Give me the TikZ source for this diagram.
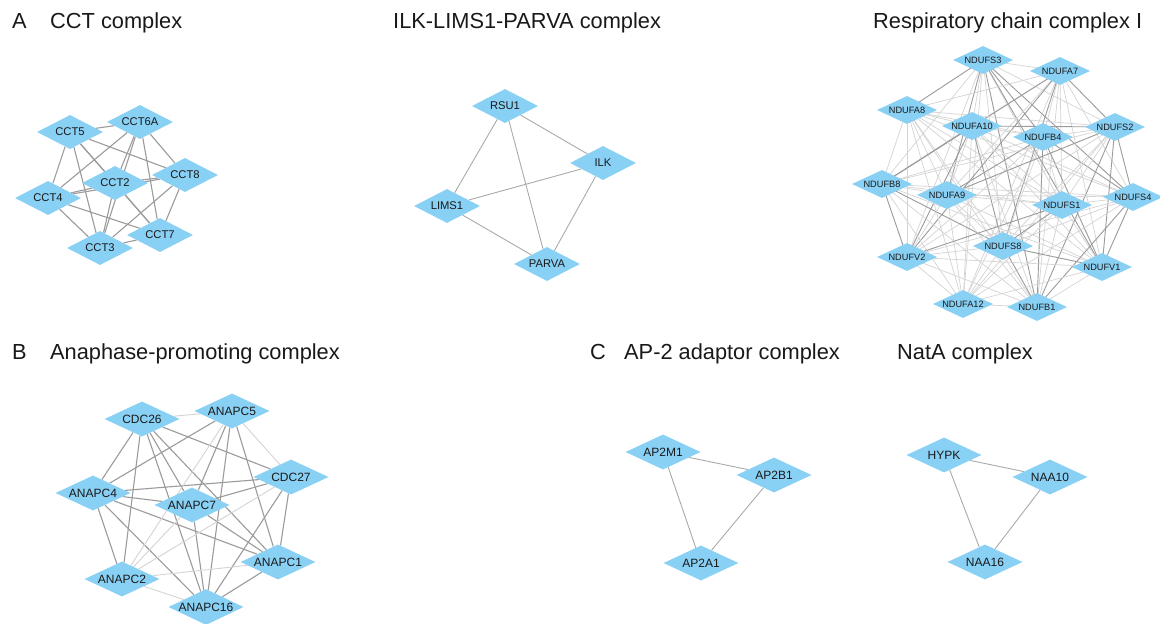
\documentclass[tikz,border=0pt]{standalone}
\usepackage{fontspec}
\setmainfont{Liberation Sans}
\usetikzlibrary{shapes.geometric}
\pgfdeclarelayer{paper}
\pgfdeclarelayer{edges}
\pgfsetlayers{paper,edges,main}
\definecolor{nodefill}{RGB}{137,208,245}
\definecolor{labeltext}{RGB}{25,25,25}
\definecolor{edgedark}{RGB}{155,155,155}
\definecolor{edgemid}{RGB}{170,170,170}
\definecolor{edgelight}{RGB}{212,212,212}
\tikzset{
  prot/.style={diamond, aspect=2, fill=nodefill, draw=none, inner sep=0pt, text=labeltext},
  protS/.style={prot, minimum width=60pt, minimum height=28pt, font=\fontsize{9.2}{9.2}\selectfont},
  protM/.style={prot, minimum width=66pt, minimum height=34pt, font=\fontsize{11.2}{11.2}\selectfont},
  protL/.style={prot, minimum width=75pt, minimum height=35pt, font=\fontsize{12}{12}\selectfont},
  link/.style={draw=edgedark, line width=1.1pt},
  midlink/.style={draw=edgemid, line width=0.9pt},
  faint/.style={draw=edgelight, line width=0.9pt},
  title/.style={anchor=base west, font=\fontsize{21.8}{21.8}\selectfont, text=labeltext, inner sep=0pt},
}
\begin{document}
\begin{tikzpicture}[x=1pt, y=-1pt]
\useasboundingbox (0,0) rectangle (1160,624);
\begin{pgfonlayer}{paper}
  \fill[white] (0,0) rectangle (1160,624);
\end{pgfonlayer}

% panel headings
\node[title] (lA) at (12,28) {A};
\node[title] (tCCT) at (50,28) {CCT complex};
\node[title] (tILK) at (393,28) {ILK-LIMS1-PARVA complex};
\node[title] (tRC) at (873,28) {Respiratory chain complex I};
\node[title] (lB) at (12,359) {B};
\node[title] (tAPC) at (50,359) {Anaphase-promoting complex};
\node[title] (lC) at (590,359) {C};
\node[title] (tAP) at (624,359) {AP-2 adaptor complex};
\node[title] (tNat) at (897,359) {NatA complex};

% CCT complex
\node[protM] (c6a) at (140,122) {CCT6A};
\node[protM] (c5)  at (70,132)  {CCT5};
\node[protM] (c8)  at (185,175) {CCT8};
\node[protM] (c2)  at (115,183) {CCT2};
\node[protM] (c4)  at (48,198)  {CCT4};
\node[protM] (c7)  at (160,235) {CCT7};
\node[protM] (c3)  at (100,248) {CCT3};

% ILK-LIMS1-PARVA complex
\node[protM] (rsu1)  at (505,106) {RSU1};
\node[protM] (ilk)   at (603,163) {ILK};
\node[protM] (lims1) at (447,206) {LIMS1};
\node[protM] (parva) at (547,264) {PARVA};

% Respiratory chain complex I
\node[protS] (s3)  at (983,60)   {NDUFS3};
\node[protS] (a7)  at (1060,71)  {NDUFA7};
\node[protS] (a8)  at (907,110)  {NDUFA8};
\node[protS] (a10) at (972,126)  {NDUFA10};
\node[protS] (b4)  at (1043,137) {NDUFB4};
\node[protS] (s2)  at (1115,127) {NDUFS2};
\node[protS] (b8)  at (882,184)  {NDUFB8};
\node[protS] (a9)  at (947,195)  {NDUFA9};
\node[protS] (s1)  at (1062,205) {NDUFS1};
\node[protS] (s4)  at (1133,197) {NDUFS4};
\node[protS] (s8)  at (1003,246) {NDUFS8};
\node[protS] (v2)  at (907,257)  {NDUFV2};
\node[protS] (v1)  at (1102,267) {NDUFV1};
\node[protS] (a12) at (963,304)  {NDUFA12};
\node[protS] (b1)  at (1037,307) {NDUFB1};

% Anaphase-promoting complex
\node[protL] (cdc26) at (142,419) {CDC26};
\node[protL] (ap5)   at (232,411) {ANAPC5};
\node[protL] (cdc27) at (291,477) {CDC27};
\node[protL] (ap4)   at (93,493)  {ANAPC4};
\node[protL] (ap7)   at (192,505) {ANAPC7};
\node[protL] (ap1)   at (278,562) {ANAPC1};
\node[protL] (ap2)   at (122,579) {ANAPC2};
\node[protL] (ap16)  at (206,607) {ANAPC16};

% AP-2 adaptor complex
\node[protL] (m1) at (663,452) {AP2M1};
\node[protL] (b1ap) at (774,475) {AP2B1};
\node[protL] (a1) at (701,563) {AP2A1};

% NatA complex
\node[protL] (hypk)  at (944,455) {HYPK};
\node[protL] (naa10) at (1050,477) {NAA10};
\node[protL] (naa16) at (985,562) {NAA16};

\begin{pgfonlayer}{edges}
  % CCT: every pair interacts
  \foreach \a [count=\i] in {c5,c6a,c8,c2,c4,c7,c3}{
    \foreach \b [count=\j] in {c5,c6a,c8,c2,c4,c7,c3}{
      \ifnum\j>\i \draw[link] (\a) -- (\b); \fi
    }}
  % ILK-LIMS1-PARVA
  \foreach \a/\b in {rsu1/ilk, rsu1/lims1, rsu1/parva, ilk/lims1, ilk/parva, lims1/parva}
    \draw[midlink] (\a) -- (\b);
  % Complex I: dense network, two edge weights
  \foreach \a [count=\i] in {s3,a7,a8,a10,b4,s2,b8,a9,s1,s4,s8,v2,v1,a12,b1}{
    \foreach \b [count=\j] in {s3,a7,a8,a10,b4,s2,b8,a9,s1,s4,s8,v2,v1,a12,b1}{
      \ifnum\j>\i
        \pgfmathtruncatemacro\w{mod(\i*\j+\i+2*\j,5)}
        \ifnum\w<2 \draw[link, line width=0.9pt] (\a.center) -- (\b.center);
        \else \draw[faint, line width=0.7pt] (\a.center) -- (\b.center); \fi
      \fi
    }}
  % Anaphase-promoting complex
  \foreach \a/\b in {cdc26/ap4, cdc26/ap7, cdc26/ap1, cdc26/ap2, cdc26/ap16, cdc26/cdc27,
                     ap5/ap4, ap5/ap7, ap5/ap1, ap5/ap16,
                     cdc27/ap4, cdc27/ap7, cdc27/ap1, cdc27/ap16,
                     ap4/ap7, ap4/ap1, ap4/ap2, ap4/ap16,
                     ap7/ap1, ap7/ap16, ap1/ap16}
    \draw[link] (\a) -- (\b);
  \foreach \a/\b in {cdc26/ap5, ap5/cdc27, ap5/ap2, cdc27/ap2, ap7/ap2, ap2/ap1, ap2/ap16}
    \draw[faint] (\a) -- (\b);
  % AP-2 adaptor complex
  \foreach \a/\b in {m1/b1ap, m1/a1, b1ap/a1}
    \draw[midlink] (\a) -- (\b);
  % NatA complex
  \foreach \a/\b in {hypk/naa10, hypk/naa16, naa10/naa16}
    \draw[midlink] (\a) -- (\b);
\end{pgfonlayer}
\end{tikzpicture}
\end{document}
